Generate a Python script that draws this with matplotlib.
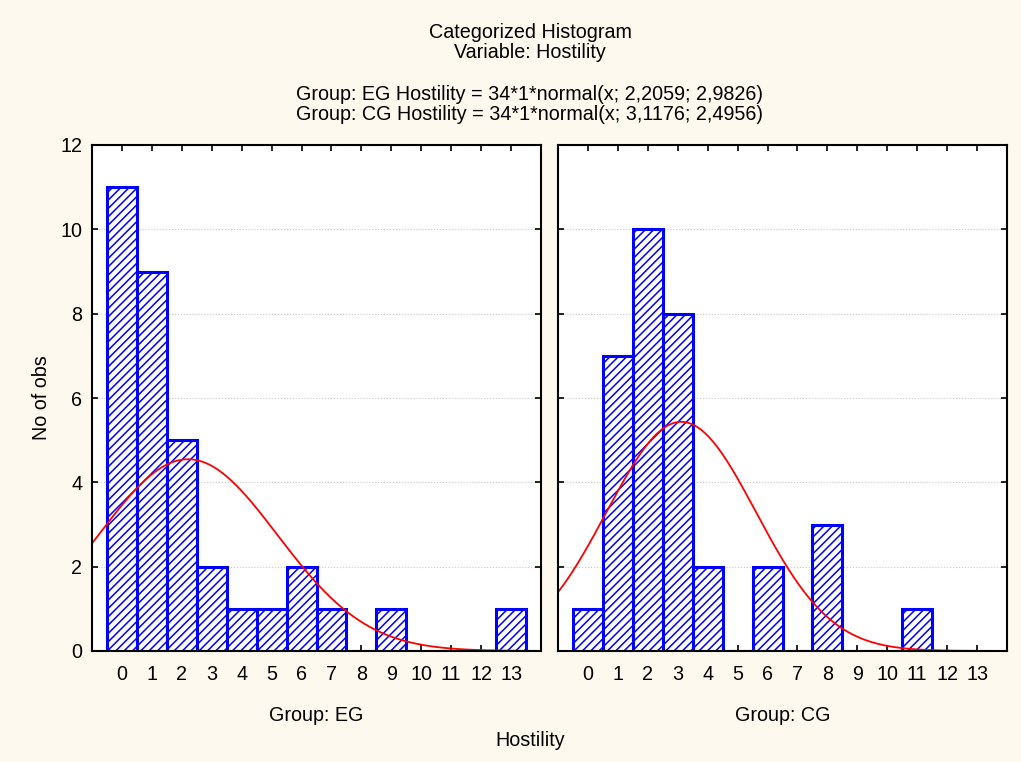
import numpy as np
import matplotlib
matplotlib.use("Agg")
import matplotlib.pyplot as plt

plt.rcParams['font.family'] = ['Liberation Sans', 'DejaVu Sans']
plt.rcParams['hatch.linewidth'] = 1.1

# Hostility scores and observed counts per group
scores = list(range(14))
eg_counts = [11, 9, 5, 2, 1, 1, 2, 1, 0, 1, 0, 0, 0, 1]
cg_counts = [1, 7, 10, 8, 2, 0, 2, 0, 3, 0, 0, 1, 0, 0]

# Fitted normal parameters (n, mean, sd), as given in the header
eg_fit = (34, 2.2059, 2.9826)
cg_fit = (34, 3.1176, 2.4956)

group_names = ["EG", "CG"]
yticks = [0, 2, 4, 6, 8, 10, 12]


def normal_curve(x, n, mu, sd):
    return n * np.exp(-0.5 * ((x - mu) / sd) ** 2) / (sd * np.sqrt(2 * np.pi))


W, H = 1021, 762
FS = 14.2
fig = plt.figure(figsize=(W / 100, H / 100), dpi=100, facecolor='#fdf9ef')

panels = [(92, 541), (558, 1007)]
top, bottom = 145, 651
axes = []
for (x0, x1) in panels:
    ax = fig.add_axes([x0 / W, 1 - bottom / H, (x1 - x0) / W, (bottom - top) / H])
    axes.append(ax)

for ax, counts, fit, name in zip(axes, [eg_counts, cg_counts], [eg_fit, cg_fit], group_names):
    ax.set_facecolor('white')
    ax.bar(scores, counts, width=1.0, color='white', edgecolor='blue',
           linewidth=2.2, hatch='////', zorder=2)
    xs = np.linspace(-1, 14, 400)
    ax.plot(xs, normal_curve(xs, *fit), color='red', linewidth=1.3, zorder=3)
    ax.set_xlim(-1, 14)
    ax.set_ylim(0, 12)
    ax.set_xticks(scores)
    ax.set_yticks(yticks)
    ax.grid(axis='y', color='#c8c8c8', linestyle=':', linewidth=0.8, zorder=0)
    ax.tick_params(direction='in', length=4, width=1.2, top=True, right=True,
                   labelsize=FS, pad=10, colors='black')
    ax.tick_params(axis='y', pad=7)
    for sp in ax.spines.values():
        sp.set_linewidth(1.5)
        sp.set_zorder(4)
    ax.set_xlabel(f"Group: {name}", fontsize=FS, labelpad=16)

axes[1].set_yticklabels([])
axes[0].set_ylabel("No of obs", fontsize=FS, labelpad=7)

fig.text(530 / W, 1 - 33 / H, "Categorized Histogram", ha='center', va='center', fontsize=FS)
fig.text(530 / W, 1 - 53 / H, "Variable: Hostility", ha='center', va='center', fontsize=FS)
fig.text(530 / W, 1 - 94 / H,
         "Group: EG Hostility = 34*1*normal(x; 2,2059; 2,9826)",
         ha='center', va='center', fontsize=FS)
fig.text(530 / W, 1 - 114 / H,
         "Group: CG Hostility = 34*1*normal(x; 3,1176; 2,4956)",
         ha='center', va='center', fontsize=FS)
fig.text(530 / W, 1 - 741 / H, "Hostility", ha='center', va='center', fontsize=FS)

fig.savefig("out.png", dpi=100, facecolor=fig.get_facecolor())
